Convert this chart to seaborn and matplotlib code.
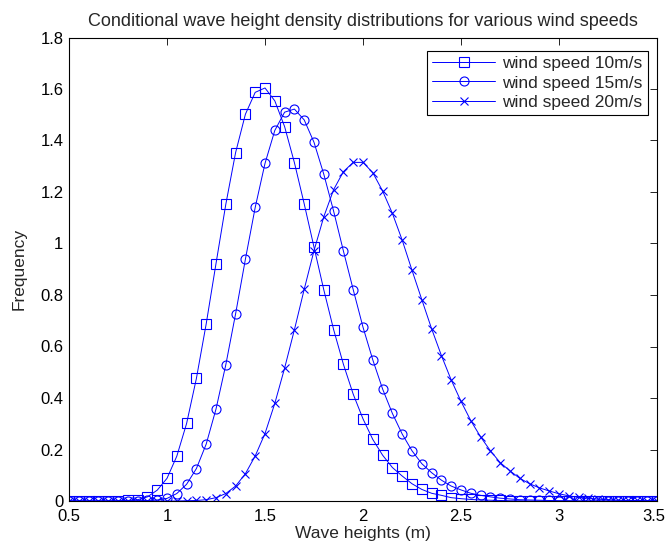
import matplotlib

matplotlib.use("Agg")
import matplotlib.pyplot as plt
import numpy as np
import pandas as pd
import seaborn as sns
from matplotlib.ticker import FormatStrFormatter, MultipleLocator
from matplotlib.transforms import ScaledTranslation


# wave heights (m), one point every 0.05 m
wave_heights = np.round(np.linspace(0.5, 3.5, 61), 2)

freq_10 = [
    0, 0, 0, 0, 0, 0.001, 0.002, 0.005, 0.016, 0.042,
    0.088, 0.174, 0.301, 0.476, 0.688, 0.922, 1.152, 1.353, 1.502, 1.587,
    1.604, 1.554, 1.454, 1.314, 1.154, 0.986, 0.820, 0.666, 0.531, 0.415,
    0.319, 0.239, 0.178, 0.130, 0.097, 0.067, 0.045, 0.030, 0.022, 0.013,
    0.009, 0.006, 0.004, 0.003, 0.002, 0.001, 0.001, 0, 0, 0,
    0, 0, 0, 0, 0, 0, 0, 0, 0, 0,
    0,
]
freq_15 = [
    0, 0, 0, 0, 0, 0, 0.001, 0.001, 0.002, 0.004,
    0.010, 0.029, 0.065, 0.126, 0.221, 0.357, 0.529, 0.727, 0.939, 1.140,
    1.311, 1.439, 1.510, 1.522, 1.480, 1.393, 1.269, 1.126, 0.971, 0.821,
    0.675, 0.548, 0.435, 0.340, 0.260, 0.195, 0.145, 0.110, 0.081, 0.058,
    0.043, 0.030, 0.022, 0.016, 0.011, 0.008, 0.005, 0.004, 0.003, 0.002,
    0.001, 0.001, 0, 0, 0, 0, 0, 0, 0, 0,
    0,
]
freq_20 = [
    0, 0, 0, 0, 0, 0, 0, 0, 0, 0,
    0, 0, 0.001, 0.002, 0.005, 0.013, 0.029, 0.058, 0.106, 0.175,
    0.262, 0.379, 0.516, 0.665, 0.822, 0.972, 1.104, 1.209, 1.279, 1.315,
    1.315, 1.275, 1.204, 1.117, 1.013, 0.896, 0.782, 0.669, 0.565, 0.470,
    0.387, 0.312, 0.249, 0.195, 0.149, 0.117, 0.088, 0.067, 0.051, 0.039,
    0.028, 0.020, 0.014, 0.010, 0.007, 0.005, 0.003, 0.002, 0.002, 0.001,
    0.001,
]

series_labels = ["wind speed 10m/s", "wind speed 15m/s", "wind speed 20m/s"]
series_markers = ["s", "o", "x"]
x_ticks = [0.5, 1, 1.5, 2, 2.5, 3, 3.5]
BLUE = "#0000ff"


def main() -> None:
    sns.set_theme(style="white")
    plt.rcParams["font.family"] = ["Liberation Sans", "DejaVu Sans"]
    plt.rcParams["font.size"] = 12.5

    fig = plt.figure(figsize=(6.66, 5.49), dpi=100)
    ax = fig.add_axes([69 / 666, 1 - 501 / 549, 588 / 666, 463.5 / 549])

    # one call per series: seaborn won't mix filled and line-art markers
    for label, marker, values in zip(series_labels, series_markers, [freq_10, freq_15, freq_20]):
        df = pd.DataFrame({"height": wave_heights, "freq": values})
        sns.lineplot(
            data=df,
            x="height",
            y="freq",
            color=BLUE,
            marker=marker,
            markersize=6.5 if marker != "x" else 5.5,
            linewidth=0.7,
            label=label,
            legend=False,
            ax=ax,
        )

    # seaborn overrides the marker edge colour, so fix it afterwards
    for line in ax.lines:
        line.set_markerfacecolor("none")
        line.set_markeredgecolor(BLUE)
        line.set_markeredgewidth(0.8)
        line.set_snap(False)

    ax.set_xlim(0.5, 3.5)
    ax.set_ylim(0, 1.8)
    ax.set_xticks(x_ticks)
    ax.yaxis.set_major_locator(MultipleLocator(0.2))
    ax.xaxis.set_major_formatter(FormatStrFormatter("%g"))
    ax.yaxis.set_major_formatter(FormatStrFormatter("%g"))
    ax.tick_params(direction="in", length=5, width=0.6, top=True, right=True,
                   labelsize=12, colors="black")
    ax.tick_params(axis="x", pad=6)
    ax.tick_params(axis="y", pad=4)
    for spine in ax.spines.values():
        spine.set_color("black")
        spine.set_linewidth(0.8)

    # keep the "3.5" label inside the figure edge
    last = ax.xaxis.get_major_ticks()[-1].label1
    last.set_horizontalalignment("right")
    last.set_transform(last.get_transform() + ScaledTranslation(0.08, 0, fig.dpi_scale_trans))

    ax.set_title("Conditional wave height density distributions for various wind speeds",
                 fontsize=13, pad=8.5)
    ax.set_xlabel("Wave heights (m)", fontsize=12.5, labelpad=1.5)
    ax.set_ylabel("Frequency", fontsize=12.5, labelpad=9.5)

    leg = ax.legend(
        ax.lines[:3],
        series_labels,
        loc="upper right",
        bbox_to_anchor=(1 - 9.3 / 588, 1 - 13 / 463.5),
        borderaxespad=0,
        fontsize=12.5,
        handlelength=3.6,
        handletextpad=0.4,
        labelspacing=0.24,
        borderpad=0.32,
        fancybox=False,
        framealpha=1,
        edgecolor="black",
    )
    leg.get_frame().set_linewidth(0.8)

    fig.savefig("out.png", dpi=100)
    plt.close(fig)


if __name__ == "__main__":
    main()
